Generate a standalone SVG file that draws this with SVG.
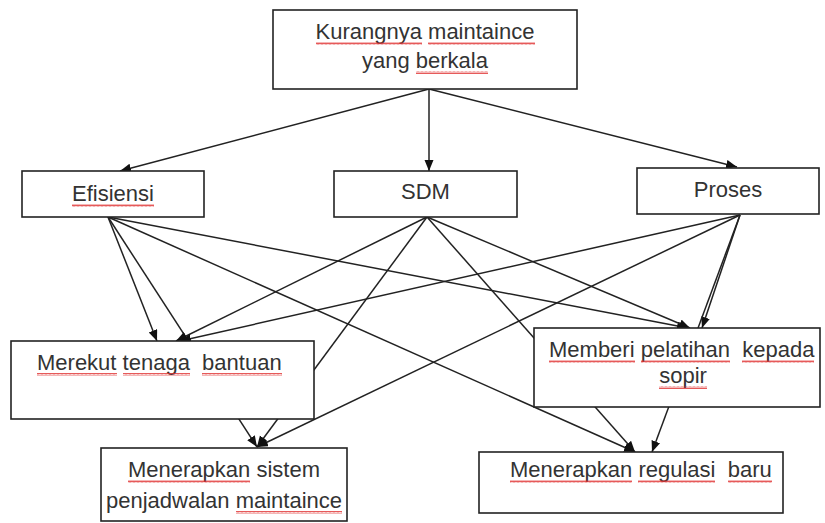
<svg xmlns="http://www.w3.org/2000/svg" width="825" height="523" viewBox="0 0 825 523">
<style>
.box{fill:#fff;stroke:#222;stroke-width:1.6}
.t{font-family:"Liberation Sans",Arial,sans-serif;font-size:22px;fill:#333}
.m{text-anchor:middle}
.c{stroke:#222;stroke-width:1.5;fill:none;marker-end:url(#ah)}
.sq{fill:url(#zz)}
</style>
<defs>
<marker id="ah" markerUnits="userSpaceOnUse" markerWidth="12" markerHeight="10" refX="11" refY="4.5" orient="auto">
<path d="M0,0 L11,4.5 L0,9 z" fill="#111"/>
</marker>
<pattern id="zz" width="4" height="3" patternUnits="userSpaceOnUse">
<path d="M0,2.5 L1,0.5 L2,2.5 L3,0.5 L4,2.5" stroke="#e03030" stroke-width="0.8" fill="none"/>
</pattern>
</defs>
<rect width="825" height="523" fill="#fff"/>
<g id="connectors">
<line class="c" x1="429" y1="89" x2="120" y2="171"/>
<line class="c" x1="429" y1="89" x2="429" y2="171"/>
<line class="c" x1="429" y1="89" x2="737" y2="167"/>
<line class="c" x1="108" y1="217" x2="157" y2="341"/>
<line class="c" x1="108" y1="217" x2="257" y2="447"/>
<line class="c" x1="108" y1="217" x2="688" y2="328"/>
<line class="c" x1="108" y1="217" x2="635" y2="452"/>
<line class="c" x1="427" y1="217" x2="176" y2="341"/>
<line class="c" x1="427" y1="217" x2="257" y2="447"/>
<line class="c" x1="427" y1="217" x2="690" y2="328"/>
<line class="c" x1="427" y1="217" x2="635" y2="452"/>
<line class="c" x1="740" y1="215" x2="180" y2="341"/>
<line class="c" x1="740" y1="215" x2="257" y2="447"/>
<line class="c" x1="740" y1="215" x2="702" y2="328"/>
<line class="c" x1="740" y1="215" x2="652" y2="452"/>
</g>
<g id="n-top">
<rect class="box" x="273" y="10" width="304" height="79"/>
<text class="t m" x="425" y="39">Kurangnya maintaince</text>
<text class="t m" x="425" y="68">yang berkala</text>
<rect class="sq" x="316" y="42" width="106" height="3"/>
<rect class="sq" x="428" y="42" width="107" height="3"/>
<rect class="sq" x="416" y="71" width="72" height="3"/>
</g>
<g id="n-efisiensi">
<rect class="box" x="22" y="171" width="182" height="46"/>
<text class="t m" x="113" y="201">Efisiensi</text>
<rect class="sq" x="72" y="204" width="82" height="3"/>
</g>
<g id="n-sdm">
<rect class="box" x="334" y="171" width="183" height="46"/>
<text class="t m" x="425.5" y="199">SDM</text>
</g>
<g id="n-proses">
<rect class="box" x="637" y="168" width="182" height="46"/>
<text class="t m" x="728" y="197">Proses</text>
</g>
<g id="n-merekut">
<rect class="box" x="11" y="341" width="303" height="78"/>
<text class="t" x="37" y="370" xml:space="preserve">Merekut tenaga  bantuan</text>
<rect class="sq" x="37" y="373" width="80" height="3"/>
<rect class="sq" x="123" y="373" width="67" height="3"/>
<rect class="sq" x="202" y="373" width="80" height="3"/>
</g>
<g id="n-memberi">
<rect class="box" x="534" y="328" width="286" height="79"/>
<text class="t" x="549" y="357" xml:space="preserve">Memberi pelatihan  kepada</text>
<text class="t m" x="683" y="383">sopir</text>
<rect class="sq" x="549" y="360" width="86" height="3"/>
<rect class="sq" x="641" y="360" width="89" height="3"/>
<rect class="sq" x="742" y="360" width="72" height="3"/>
<rect class="sq" x="659" y="386" width="48" height="3"/>
</g>
<g id="n-sistem">
<rect class="box" x="101" y="448" width="246" height="73"/>
<text class="t m" x="224" y="477">Menerapkan sistem</text>
<text class="t m" x="224" y="508">penjadwalan maintaince</text>
<rect class="sq" x="128" y="480" width="122" height="3"/>
<rect class="sq" x="236" y="511" width="106" height="3"/>
</g>
<g id="n-regulasi">
<rect class="box" x="479" y="452" width="304" height="61"/>
<text class="t" x="510" y="477" xml:space="preserve">Menerapkan regulasi  baru</text>
<rect class="sq" x="510" y="480" width="122" height="3"/>
<rect class="sq" x="638" y="480" width="77" height="3"/>
<rect class="sq" x="728" y="480" width="44" height="3"/>
</g>
</svg>
